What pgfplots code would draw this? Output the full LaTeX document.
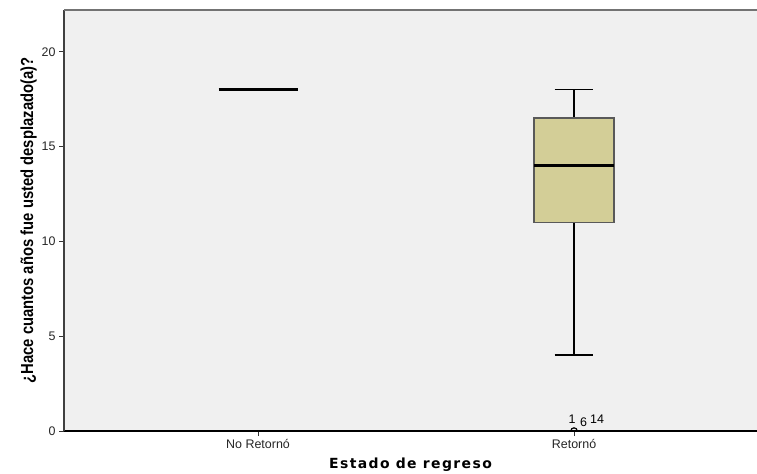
\documentclass[border=0pt]{standalone}
\usepackage{pgfplots}
\pgfplotsset{compat=1.18}
\usepgfplotslibrary{statistics}
\usetikzlibrary{calc}
\usepackage{fontspec}
\setmainfont{Liberation Sans}
\newfontfamily\narrowbold{Liberation Sans}[FakeStretch=0.85]
\newfontfamily\dejabold{DejaVu Sans}[LetterSpace=10]
\definecolor{bgc}{RGB}{240,240,240}
\definecolor{boxc}{RGB}{211,206,151}
\begin{document}
\begin{tikzpicture}
\begin{axis}[
  name=ax,
  scale only axis,
  width=693bp, height=421bp,
  xmin=0.386, xmax=2.579,
  ymin=0, ymax=22.2,
  axis x line=bottom, axis y line=left,
  x axis line style={black, -, line width=1.1pt},
  y axis line style={black!75, -, line width=1.3pt},
  axis background/.style={fill=bgc},
  xtick={1,2}, xticklabels={No Retornó, Retornó},
  ytick={0,5,10,15,20},
  tick align=outside,
  major tick length=5bp,
  tick style={black!80, line width=0.9pt},
  tick label style={font=\fontsize{12.5}{14}\selectfont, text=black!85},
  /pgf/number format/assume math mode=true,
  xlabel={\dejabold\bfseries Estado de regreso},
  xlabel style={font=\fontsize{14}{16}\selectfont, yshift=-2bp},
  ylabel={\narrowbold\bfseries ¿Hace cuantos años fue usted desplazado(a)?},
  ylabel style={font=\fontsize{17.5}{20}\selectfont, yshift=-2bp},
  boxplot/draw direction=y,
  clip=true, clip marker paths=true,
]
\addplot+[boxplot prepared={draw position=1, lower whisker=18, lower quartile=18, median=18, upper quartile=18, upper whisker=18, box extend=0.25, whisker extend=0.123},
  boxplot/every median/.style={line width=2.6pt},
  boxplot/every box/.style={draw=none},
  draw=black, fill=boxc, solid, mark=none] coordinates {};
\addplot+[boxplot prepared={draw position=2, lower whisker=4, lower quartile=11, median=14, upper quartile=16.5, upper whisker=18, box extend=0.253, whisker extend=0.123},
  boxplot/every median/.style={line width=2.6pt},
  boxplot/every box/.style={draw=black!65, fill=boxc, line width=1.3pt},
  boxplot/every whisker/.style={black, line width=1.3pt},
  draw=black, solid, line width=1.3pt, mark=o, mark size=3.2pt, mark options={black, line width=1.2pt}] table[row sep=\\, y index=0] {0\\};
\node[font=\fontsize{12.5}{14}\selectfont, anchor=base] at (axis cs:1.994,0.42) {1};
\node[font=\fontsize{12.5}{14}\selectfont, anchor=base] at (axis cs:2.030,0.26) {6};
\node[font=\fontsize{12.5}{14}\selectfont, anchor=base] at (axis cs:2.073,0.42) {14};
\end{axis}
\draw[black!55, line width=2pt] (ax.north west) -- (ax.north east);
\pgfresetboundingbox
\path[use as bounding box] ($(ax.south west)+(-64bp,-43bp)$) rectangle ($(ax.north east)+(0,10bp)$);
\end{tikzpicture}
\end{document}
